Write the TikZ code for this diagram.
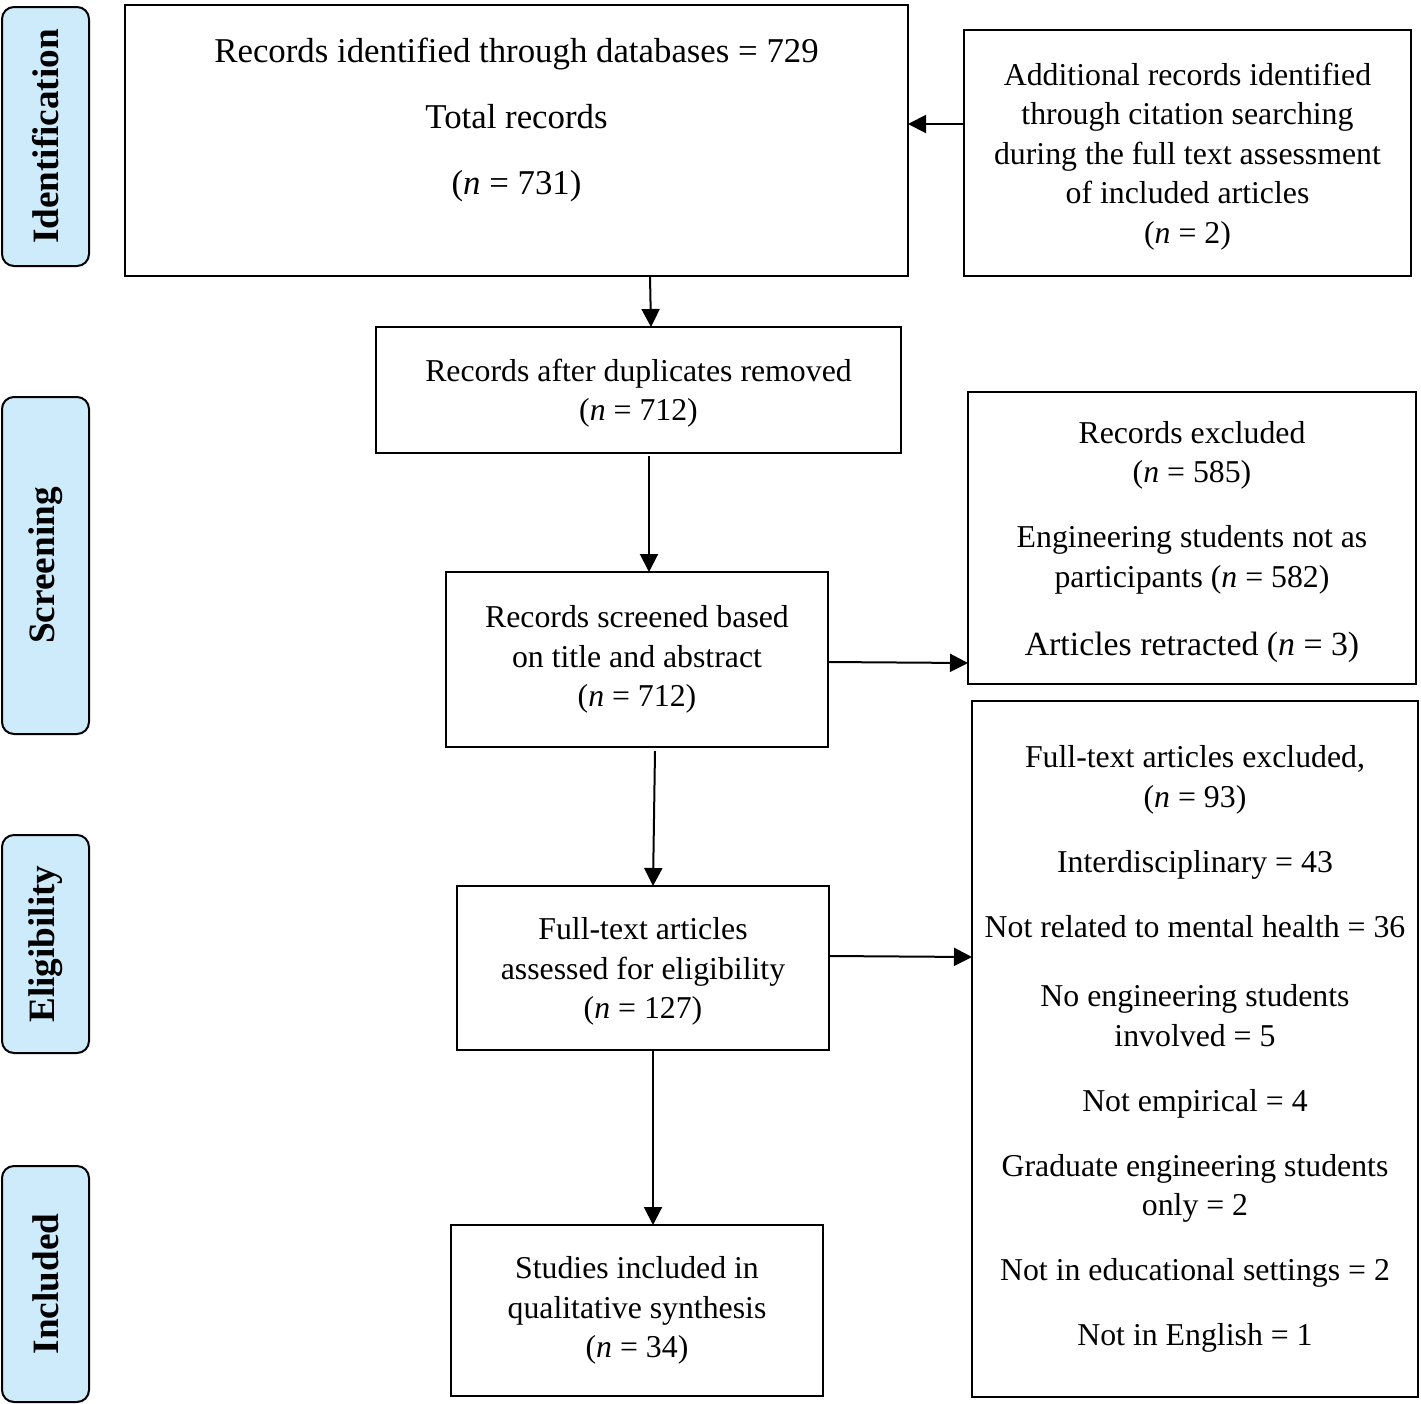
\documentclass[tikz,border=0pt]{standalone}
\usepackage{fontspec}
\setmainfont{Liberation Serif}
\usetikzlibrary{arrows.meta}
\definecolor{stageblue}{HTML}{CDEBFB}
\newcommand{\bodysize}{\fontsize{15.9}{19.75}\selectfont}
\newcommand{\nn}{\textit{n}}
\begin{document}
\begin{tikzpicture}[x=0.5pt,y=-0.5pt,
  box/.style={draw, line width=1pt, inner sep=0pt, outer sep=0pt, align=center, font=\bodysize, anchor=north west},
  lowered/.style={text depth=0pt},
  stage/.style={draw, line width=1pt, rounded corners=6pt, fill=stageblue, inner sep=0pt, outer sep=0pt, anchor=north west, minimum width=43.5pt, font=\fontsize{18.6}{20}\selectfont\bfseries},
  arr/.style={-{Triangle[length=9pt,width=9pt]}, line width=1pt}]
\useasboundingbox (0,0) rectangle (1421,1404);

% stage labels
\node[stage, minimum height=129.5pt] (sid) at (2,7) {\rotatebox{90}{Identification}};
\node[stage, minimum height=168.5pt] (ssc) at (2,397) {\rotatebox{90}{Screening}};
\node[stage, minimum height=109pt] (sel) at (2,835) {\rotatebox{90}{Eligibility}};
\node[stage, minimum height=118pt] (sin) at (2,1166) {\rotatebox{90}{Included}};

% boxes
\node[box, minimum width=391.5pt, minimum height=135.5pt] (top) at (125,5) {};
\node[align=center, font=\fontsize{17.4}{33}\selectfont] (topT) at (516.5,119.5)
  {Records identified through databases = 729\\Total records\\(\nn{} = 731)};

\node[box, lowered, minimum width=223.5pt, minimum height=123pt] (add) at (964,30)
  {Additional records identified\\through citation searching\\during the full text assessment\\of included articles\\(\nn{} = 2)};

\node[box, lowered, minimum width=262.5pt, minimum height=63pt] (dup) at (376,327)
  {Records after duplicates removed\\(\nn{} = 712)};

\node[box, minimum width=191pt, minimum height=87.5pt] (scr) at (446,572)
  {Records screened based\\on title and abstract\\(\nn{} = 712)};

\node[box, lowered, minimum width=224pt, minimum height=146pt] (exc) at (968,392)
  {Records excluded\\(\nn{} = 585)\\[12.75pt]Engineering students not as\\participants (\nn{} = 582)\\[14.25pt]{\fontsize{16.9}{19.75}\selectfont Articles retracted (\nn{} = 3)}};

\node[box, lowered, minimum width=186pt, minimum height=82pt] (ft) at (457,886)
  {Full-text articles\\assessed for eligibility\\(\nn{} = 127)};

\node[box, minimum width=223pt, minimum height=348pt] (ftx) at (972,701)
  {Full-text articles excluded,\\(\nn{} = 93)\\[12.75pt]Interdisciplinary = 43\\[12.75pt]Not related to mental health = 36\\[15pt]No engineering students\\involved = 5\\[12.75pt]Not empirical = 4\\[12.75pt]Graduate engineering students\\only = 2\\[12.75pt]Not in educational settings = 2\\[12.75pt]Not in English = 1};

\node[box, minimum width=186pt, minimum height=85.5pt] (inc) at (451,1225)
  {Studies included in\\qualitative synthesis\\(\nn{} = 34)};

% connectors
\draw[arr] ([xshift=66.75pt]top.south) -- ([xshift=6.25pt]dup.north);
\draw[arr] ([yshift=14.5pt]add.west) -- ([yshift=8.25pt]top.east);
\draw[arr] ([xshift=5.25pt,yshift=-1.5pt]dup.south) -- ([xshift=6pt]scr.north);
\draw[arr] ([yshift=-1.25pt]scr.east) -- ([yshift=-62.5pt]exc.west);
\draw[arr] ([xshift=9pt,yshift=-2pt]scr.south) -- ([xshift=5pt]ft.north);
\draw[arr] ([yshift=6pt,xshift=0.5pt]ft.east) -- ([yshift=46pt]ftx.west);
\draw[arr] ([xshift=5pt]ft.south) -- ([xshift=8pt]inc.north);
\end{tikzpicture}
\end{document}
